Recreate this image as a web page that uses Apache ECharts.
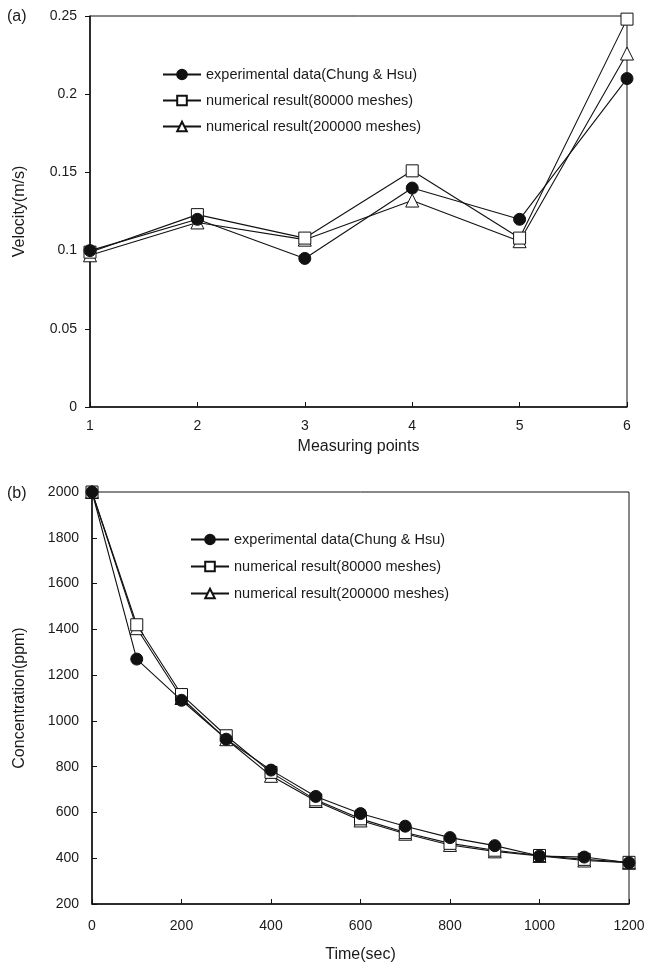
<!DOCTYPE html>
<html>
<head>
<meta charset="utf-8">
<script src="https://cdn.jsdelivr.net/npm/echarts@6/dist/echarts.min.js"></script>
<style>html,body{margin:0;padding:0;background:#fff}#c{width:649px;height:968px}</style>
</head>
<body>
<div id="c"></div>
<script>
// ---- data ----
const points = [1, 2, 3, 4, 5, 6];
const velExp   = [0.100, 0.120, 0.095, 0.140, 0.120, 0.210];
const vel80k   = [0.099, 0.123, 0.108, 0.151, 0.108, 0.248];
const vel200k  = [0.097, 0.118, 0.107, 0.132, 0.106, 0.226];

const times    = [0, 100, 200, 300, 400, 500, 600, 700, 800, 900, 1000, 1100, 1200];
const concExp  = [2000, 1270, 1090, 920, 785, 670, 595, 540, 490, 455, 410, 405, 380];
const conc80k  = [2000, 1420, 1115, 935, 775, 655, 572, 512, 465, 435, 412, 395, 382];
const conc200k = [2000, 1405, 1100, 920, 760, 650, 565, 507, 458, 430, 410, 390, 380];

const names = ['experimental data(Chung & Hsu)', 'numerical result(80000 meshes)', 'numerical result(200000 meshes)'];
const panelLabels = ['(a)', '(b)'];
const axisNames = ['Measuring points', 'Velocity(m/s)', 'Time(sec)', 'Concentration(ppm)'];

const FONT = 'Liberation Sans, Arial, sans-serif';
const TXT = '#1a1a1a';

function pairs(xs, ys) { return xs.map((x, i) => [x, ys[i]]); }
const plain = v => String(v);

const markerStyles = [
  { symbol: 'circle', symbolSize: 12, itemStyle: { color: '#111', borderColor: '#111', borderWidth: 1 }, z: 4 },
  { symbol: 'rect', symbolSize: 12, itemStyle: { color: '#fff', borderColor: '#111', borderWidth: 1 }, z: 3 },
  { symbol: 'triangle', symbolSize: 13, itemStyle: { color: '#fff', borderColor: '#111', borderWidth: 1 }, z: 2 }
];

function mkSeries(data, idx, axisIdx) {
  const m = markerStyles[idx];
  return {
    type: 'line',
    name: names[idx],
    xAxisIndex: axisIdx, yAxisIndex: axisIdx,
    data: data,
    symbol: m.symbol, symbolSize: m.symbolSize,
    showAllSymbol: true,
    itemStyle: m.itemStyle,
    lineStyle: { color: '#111', width: 1.1 },
    z: m.z,
    animation: false
  };
}

function xAxisCfg(gridIndex, min, max, interval, name, gap, margin) {
  return {
    type: 'value', gridIndex, min, max, interval,
    name, nameLocation: 'middle', nameGap: gap,
    nameTextStyle: { fontFamily: FONT, fontSize: 16, color: TXT },
    axisLine: { show: true, lineStyle: { color: '#111', width: 1.5 } },
    axisTick: { show: true, inside: true, length: 5, lineStyle: { color: '#111' } },
    axisLabel: { fontFamily: FONT, fontSize: 14, color: TXT, margin, formatter: plain },
    splitLine: { show: false }
  };
}
function yAxisCfg(gridIndex, min, max, interval, name, gap, tickInside) {
  return {
    type: 'value', gridIndex, min, max, interval,
    name, nameLocation: 'middle', nameGap: gap,
    nameTextStyle: { fontFamily: FONT, fontSize: 16, color: TXT },
    axisLine: { show: true, lineStyle: { color: '#111', width: 1.5 } },
    axisTick: { show: true, inside: tickInside, length: 5, lineStyle: { color: '#111' } },
    axisLabel: { fontFamily: FONT, fontSize: 14, color: TXT, margin: 13, formatter: plain },
    splitLine: { show: false }
  };
}

const legendText = { fontFamily: FONT, fontSize: 14.5, color: TXT };

const chart = echarts.init(document.getElementById('c'), null, { renderer: 'canvas' });
chart.setOption({
  animation: false,
  backgroundColor: '#fff',
  grid: [
    { left: 90, top: 16, width: 537, height: 391, show: true, borderColor: '#111', borderWidth: 1 },
    { left: 92, top: 492, width: 537, height: 412, show: true, borderColor: '#111', borderWidth: 1 }
  ],
  xAxis: [
    xAxisCfg(0, 1, 6, 1, axisNames[0], 32, 12),
    xAxisCfg(1, 0, 1200, 200, axisNames[2], 43, 15)
  ],
  yAxis: [
    yAxisCfg(0, 0, 0.25, 0.05, axisNames[1], 62, false),
    yAxisCfg(1, 200, 2000, 200, axisNames[3], 64, true)
  ],
  legend: [
    { orient: 'vertical', left: 157, top: 62, itemWidth: 38, itemHeight: 12, itemGap: 11,
      data: names, textStyle: legendText, selectedMode: false },
    { orient: 'vertical', left: 185, top: 527, itemWidth: 38, itemHeight: 12, itemGap: 12,
      data: names, textStyle: legendText, selectedMode: false }
  ],
  graphic: [
    { type: 'text', left: 7, top: 9, style: { text: panelLabels[0], font: '16px ' + FONT, fill: TXT } },
    { type: 'text', left: 7, top: 486, style: { text: panelLabels[1], font: '16px ' + FONT, fill: TXT } }
  ],
  series: [
    mkSeries(pairs(points, velExp), 0, 0),
    mkSeries(pairs(points, vel80k), 1, 0),
    mkSeries(pairs(points, vel200k), 2, 0),
    mkSeries(pairs(times, concExp), 0, 1),
    mkSeries(pairs(times, conc80k), 1, 1),
    mkSeries(pairs(times, conc200k), 2, 1)
  ]
});
</script>
</body>
</html>
